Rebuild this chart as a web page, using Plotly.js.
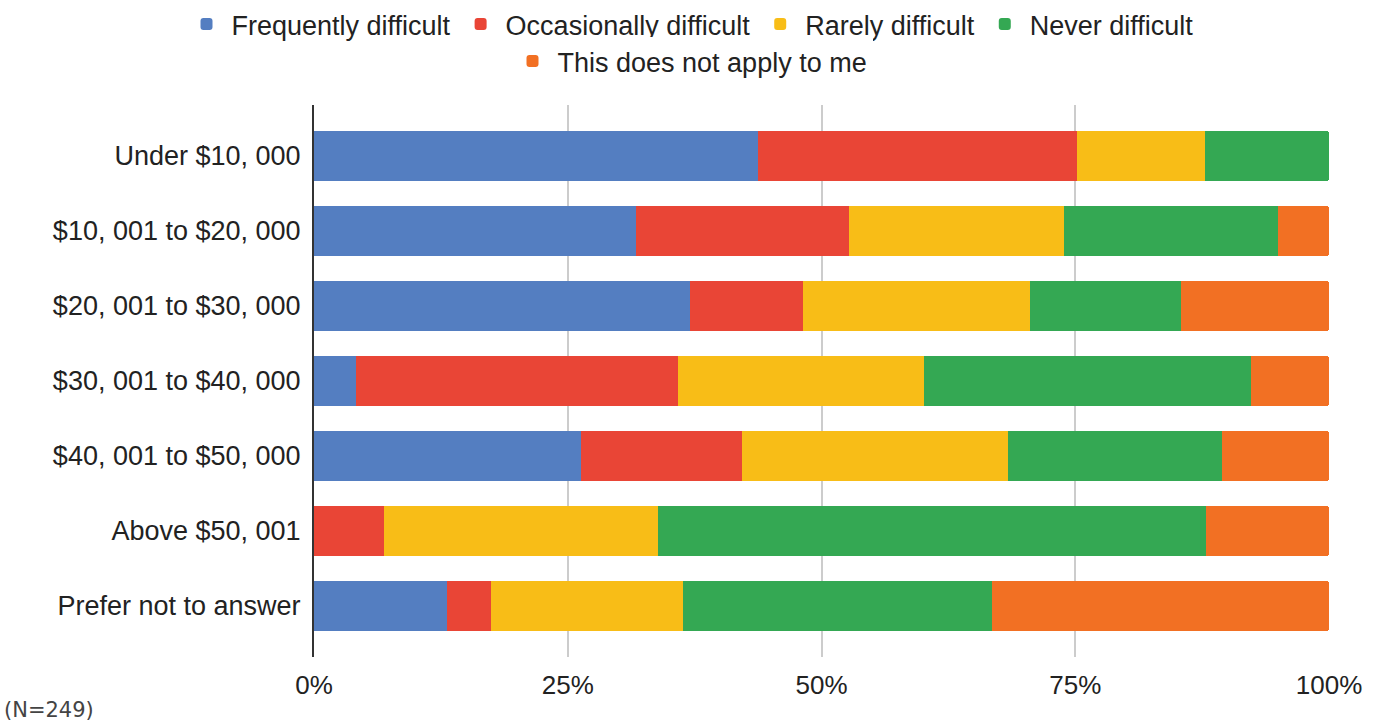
<!DOCTYPE html>
<html>
<head>
<meta charset="utf-8">
<script src="https://cdn.plot.ly/plotly-3.0.1.min.js"></script>
<style>html,body{margin:0;padding:0;background:#fff;}#chart{width:1380px;height:723px;}</style>
</head>
<body>
<div id="chart"></div>
<script>
const categories = ["Under $10, 000", "$10, 001 to $20, 000", "$20, 001 to $30, 000", "$30, 001 to $40, 000", "$40, 001 to $50, 000", "Above $50, 001", "Prefer not to answer"];
const frequentlyDifficult = [43.7, 31.7, 37.0, 4.1, 26.3, 0, 13.1];
const occasionallyDifficult = [31.5, 21.0, 11.2, 31.8, 15.9, 6.85, 4.3];
const rarelyDifficult = [12.6, 21.2, 22.3, 24.2, 26.2, 27.05, 19.0];
const neverDifficult = [12.2, 21.1, 14.9, 32.2, 21.1, 54.0, 30.4];
const notApplicable = [0, 5.0, 14.6, 7.7, 10.5, 12.1, 33.2];
const seriesNames = ["Frequently difficult", "Occasionally difficult", "Rarely difficult", "Never difficult", "This does not apply to me"];
const seriesValues = [frequentlyDifficult, occasionallyDifficult, rarelyDifficult, neverDifficult, notApplicable];
const seriesColors = ["#547ec1", "#e94536", "#f8bd17", "#34a853", "#f27023"];
const seriesLegend = ["legend", "legend", "legend", "legend", "legend2"];
const xTickVals = [0, 25, 50, 75, 100];
const xTickText = ["0%", "25%", "50%", "75%", "100%"];
const note = "(N=249)";

const traces = seriesNames.map((name, i) => ({
  type: "bar",
  orientation: "h",
  name: name,
  y: categories,
  x: seriesValues[i],
  legend: seriesLegend[i],
  marker: {color: seriesColors[i], line: {width: 0}},
  hoverinfo: "skip"
}));

const legendBase = {
  orientation: "h",
  xref: "container",
  yref: "container",
  x: 0.5,
  xanchor: "center",
  yanchor: "top",
  font: {size: 27, color: "#222"},
  itemwidth: 40,
  traceorder: "normal",
  itemclick: false,
  itemdoubleclick: false
};

const layout = {
  width: 1380,
  height: 723,
  paper_bgcolor: "#fff",
  plot_bgcolor: "#fff",
  barmode: "stack",
  barnorm: "percent",
  bargap: 0.333,
  barcornerradius: 3,
  margin: {l: 314, r: 51, t: 105, b: 66, pad: 0},
  font: {family: "Liberation Sans, Arial, sans-serif", size: 26, color: "#222"},
  xaxis: {
    range: [0, 100],
    tickvals: xTickVals,
    ticktext: xTickText,
    showgrid: true,
    gridcolor: "#cccccc",
    gridwidth: 2,
    zeroline: false,
    showline: false,
    ticks: "",
    ticklabelstandoff: 10,
    tickfont: {size: 26, color: "#222"},
    fixedrange: true
  },
  yaxis: {
    type: "category",
    categoryorder: "array",
    categoryarray: categories,
    range: [6.68, -0.68],
    showgrid: false,
    zeroline: false,
    showline: true,
    linecolor: "#333",
    linewidth: 2,
    ticks: "",
    ticklabelstandoff: 6,
    tickfont: {size: 27, color: "#222"},
    fixedrange: true
  },
  legend: Object.assign({}, legendBase, {y: 1}),
  legend2: Object.assign({}, legendBase, {y: 1 - 37 / 723}),
  annotations: [{
    text: note,
    xref: "paper",
    yref: "paper",
    x: -314/1015,
    y: -66/552,
    xanchor: "left",
    yanchor: "bottom",
    showarrow: false,
    font: {family: "DejaVu Sans, sans-serif", size: 21, color: "#444"},
    xshift: 2,
    yshift: -1
  }]
};

Plotly.newPlot("chart", traces, layout, {displayModeBar: false, staticPlot: true});
</script>
</body>
</html>
